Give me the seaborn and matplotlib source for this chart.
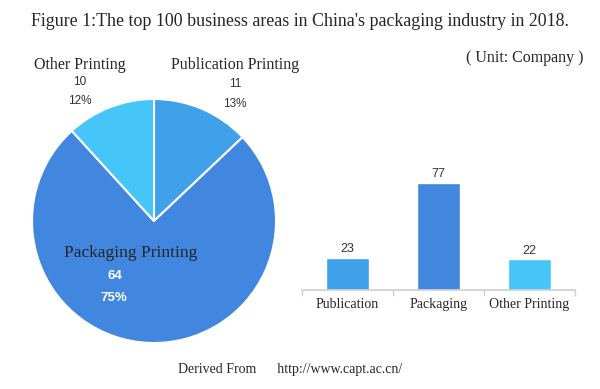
import matplotlib.pyplot as plt
import seaborn as sns
import pandas as pd

# pie data (companies)
pie_labels = ['Publication Printing', 'Packaging Printing', 'Other Printing']
pie_values = [11, 64, 10]
pie_pct = ['13%', '75%', '12%']
pie_colors = ['#3fa1ea', '#4187e0', '#45c5f8']

# bar data
bar_labels = ['Publication', 'Packaging', 'Other Printing']
bar_values = [23, 77, 22]
bar_colors = ['#3fa1ea', '#4187e0', '#45c5f8']

sns.set_theme(style='white')
serif = ['Liberation Serif', 'DejaVu Serif']
sans = ['Liberation Sans', 'DejaVu Sans']

fig = plt.figure(figsize=(6, 3.89), dpi=100)
fig.patch.set_facecolor('white')

# pie on the left
W, H = 600, 389
cx, cy, r = 154, 221, 122
ax1 = fig.add_axes([(cx - r) / W, (H - cy - r) / H, 2 * r / W, 2 * r / H])
ax1.pie(pie_values, colors=pie_colors, startangle=90, counterclock=False,
        radius=1, wedgeprops=dict(edgecolor='white', linewidth=1.5))
ax1.set_xlim(-1, 1)
ax1.set_ylim(-1, 1)
ax1.axis('off')

fig.text(80 / W, 1 - 65 / H, 'Other Printing', family=serif, fontsize=11.5, ha='center', va='center')
fig.text(80 / W, 1 - 82 / H, str(pie_values[2]), family=sans, fontsize=8.5, ha='center', va='center', color='#333333')
fig.text(80 / W, 1 - 101 / H, pie_pct[2], family=sans, fontsize=8.5, ha='center', va='center', color='#333333')
fig.text(235 / W, 1 - 65 / H, 'Publication Printing', family=serif, fontsize=11.5, ha='center', va='center')
fig.text(235 / W, 1 - 84 / H, str(pie_values[0]), family=sans, fontsize=8.5, ha='center', va='center', color='#333333')
fig.text(235 / W, 1 - 104 / H, pie_pct[0], family=sans, fontsize=8.5, ha='center', va='center', color='#333333')
fig.text(131 / W, 1 - 253 / H, 'Packaging Printing', family=serif, fontsize=12.5, ha='center', va='center')
fig.text(115 / W, 1 - 276 / H, str(pie_values[1]), family=sans, fontsize=9.5, ha='center', va='center',
         color='white', fontweight='bold')
fig.text(114 / W, 1 - 298 / H, pie_pct[1], family=sans, fontsize=9.5, ha='center', va='center',
         color='white', fontweight='bold')

# bars on the right
ax2 = fig.add_axes([302 / W, (H - 290) / H, 273 / W, 120 / H])
df = pd.DataFrame({'area': bar_labels, 'n': bar_values})
sns.barplot(data=df, x='area', y='n', hue='area', palette=bar_colors, legend=False,
            width=0.47, ax=ax2, saturation=1)
ax2.set_ylim(0, 77 * 120 / 107)
ax2.set_xlabel('')
ax2.set_ylabel('')
ax2.set_yticks([])
for s in ['top', 'right', 'left']:
    ax2.spines[s].set_visible(False)
ax2.spines['bottom'].set_color('#d0d0d0')
ax2.set_xticks([-0.5, 0.5, 1.5, 2.5], minor=True)
ax2.tick_params(axis='x', which='minor', length=4, color='#d0d0d0', bottom=True)
ax2.tick_params(axis='x', which='major', length=0, pad=6)
for t in ax2.get_xticklabels():
    t.set_family(serif)
    t.set_fontsize(10)
for i, v in enumerate(bar_values):
    ax2.text(i, v + 2, str(v), ha='center', va='bottom', family=sans, fontsize=9, color='#333333')

fig.text(0.5, 1 - 22 / H, "Figure 1:The top 100 business areas in China's packaging industry in 2018.",
         family=serif, fontsize=12.9, ha='center', va='center')
fig.text(583 / W, 1 - 58 / H, '( Unit: Company )', family=serif, fontsize=11.5, ha='right', va='center')
fig.text(178 / W, 1 - 369 / H, 'Derived From      http://www.capt.ac.cn/', family=serif,
         fontsize=10, ha='left', va='center')

fig.savefig('out.png', dpi=100)
